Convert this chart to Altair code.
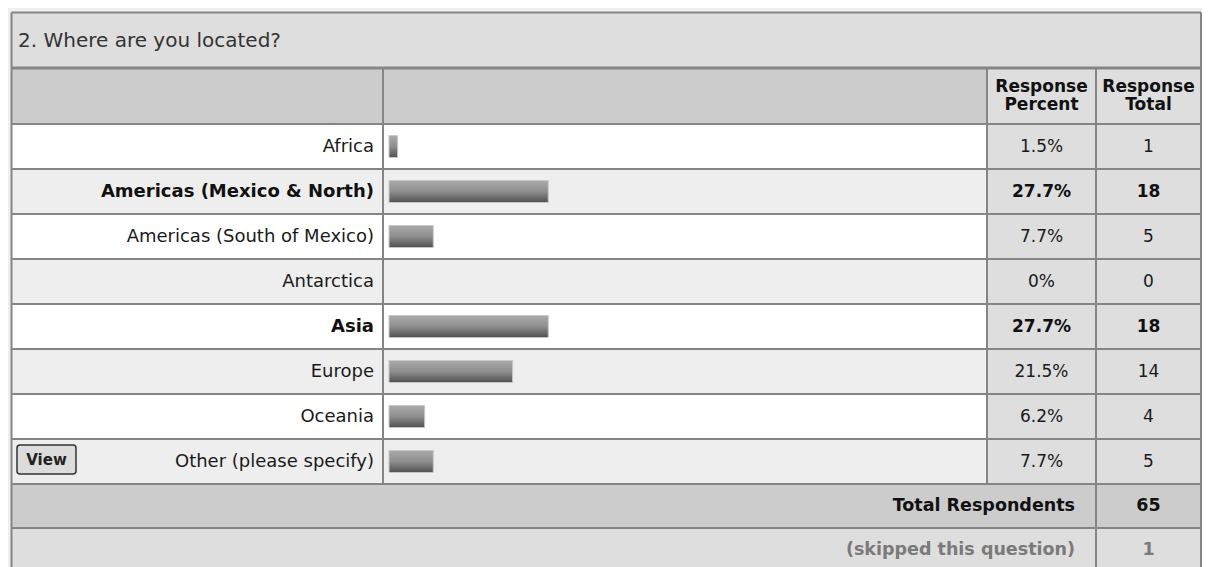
import altair as alt
import pandas as pd

# ---------------- data ----------------
title_text = "2. Where are you located?"
categories = [
    "Africa",
    "Americas (Mexico & North)",
    "Americas (South of Mexico)",
    "Antarctica",
    "Asia",
    "Europe",
    "Oceania",
    "Other (please specify)",
]
percents = [1.5, 27.7, 7.7, 0, 27.7, 21.5, 6.2, 7.7]
totals = [1, 18, 5, 0, 18, 14, 4, 5]
total_respondents = 65
skipped = 1

# ---------------- layout (plot pixels) ----------------
W, H = 1194, 559
L, T, R, B = 3.5, 4.5, 1193, 559
Y_TITLE = 60
Y_HEAD = 116
ROW_H = 45
Y_ROWS_END = Y_HEAD + ROW_H * len(categories)
Y_TOTAL_END = Y_ROWS_END + 44
C1, C2, C3 = 375, 979, 1088
FONT = "DejaVu Sans"
LINE = "#858585"
VAL_SIZE = 17
BOLD_SIZE = 17.5
LABEL_SIZE = 18

df = pd.DataFrame({
    "cat": categories,
    "pct": percents,
    "total": totals,
})
df["pct_label"] = [f"{p:g}%" for p in percents]
df["stripe"] = [i % 2 for i in range(len(df))]
df["bold"] = [t == max(totals) for t in totals]

yband = alt.Y("cat:N", sort=categories, axis=None,
              scale=alt.Scale(domain=categories, range=[Y_HEAD, Y_ROWS_END],
                              paddingInner=0, paddingOuter=0))

# structural cell backgrounds
cells = pd.DataFrame([
    dict(x=L, x2=R, y=T, y2=Y_TITLE, c="#dedede"),
    dict(x=L, x2=C2, y=Y_TITLE, y2=Y_HEAD, c="#cccccc"),
    dict(x=C2, x2=R, y=Y_TITLE, y2=Y_HEAD, c="#dedede"),
    dict(x=C2, x2=R, y=Y_HEAD, y2=Y_ROWS_END, c="#dedede"),
    dict(x=L, x2=R, y=Y_ROWS_END, y2=Y_TOTAL_END, c="#cccccc"),
    dict(x=L, x2=R, y=Y_TOTAL_END, y2=B, c="#dedede"),
])
cell_layer = alt.Chart(cells).mark_rect().encode(
    x=alt.X("x:Q", scale=None), x2="x2:Q",
    y=alt.Y("y:Q", scale=None), y2="y2:Q",
    color=alt.Color("c:N", scale=None),
)

row_bg = alt.Chart(df).mark_rect().encode(
    x=alt.value(L), x2=alt.value(C2),
    y=yband,
    color=alt.condition("datum.stripe == 1", alt.value("#eeeeee"), alt.value("#ffffff")),
)

# grid lines
hl = [dict(x=L, x2=R, y=T, y2=T, w=2),
      dict(x=L, x2=R, y=Y_TITLE, y2=Y_TITLE, w=3),
      dict(x=L, x2=R, y=Y_TOTAL_END, y2=Y_TOTAL_END, w=2)]
for i in range(len(categories) + 1):
    yy = Y_HEAD + ROW_H * i
    hl.append(dict(x=L, x2=R, y=yy, y2=yy, w=2))
vl = [dict(x=L, x2=L, y=T, y2=B, w=2),
      dict(x=R, x2=R, y=T, y2=B, w=2),
      dict(x=C1, x2=C1, y=Y_TITLE, y2=Y_ROWS_END, w=2),
      dict(x=C2, x2=C2, y=Y_TITLE, y2=Y_ROWS_END, w=2),
      dict(x=C3, x2=C3, y=Y_TITLE, y2=B, w=2)]
lines = pd.DataFrame(hl + vl)
line_layer = alt.Chart(lines).mark_rule(color=LINE).encode(
    x=alt.X("x:Q", scale=None), x2="x2:Q",
    y=alt.Y("y:Q", scale=None), y2="y2:Q",
    strokeWidth=alt.StrokeWidth("w:Q", scale=None),
)

# bars
grad = alt.Gradient(
    gradient="linear",
    stops=[alt.GradientStop(color="#aaaaaa", offset=0),
           alt.GradientStop(color="#8e8e8e", offset=0.5),
           alt.GradientStop(color="#505050", offset=1)],
    x1=0, x2=0, y1=0, y2=1,
)
bars = alt.Chart(df).transform_filter("datum.pct > 0").mark_bar(
    color=grad, height=22, stroke="#c8c8c8", strokeWidth=1
).encode(
    x=alt.X("pct:Q", axis=None, scale=alt.Scale(domain=[0, 100], range=[381, 956])),
    y=yband,
)

# row labels
lab_norm = alt.Chart(df).transform_filter("!datum.bold").mark_text(
    align="right", baseline="middle", font=FONT, fontSize=LABEL_SIZE, color="#1a1a1a"
).encode(x=alt.value(C1 - 9), y=yband, text="cat:N")
lab_bold = alt.Chart(df).transform_filter("datum.bold").mark_text(
    align="right", baseline="middle", font=FONT, fontSize=LABEL_SIZE, fontWeight="bold", color="#111111"
).encode(x=alt.value(C1 - 9), y=yband, text="cat:N")

pct_norm = alt.Chart(df).transform_filter("!datum.bold").mark_text(
    align="center", baseline="middle", font=FONT, fontSize=VAL_SIZE, color="#1a1a1a"
).encode(x=alt.value((C2 + C3) / 2), y=yband, text="pct_label:N")
pct_bold = alt.Chart(df).transform_filter("datum.bold").mark_text(
    align="center", baseline="middle", font=FONT, fontSize=VAL_SIZE, fontWeight="bold", color="#111111"
).encode(x=alt.value((C2 + C3) / 2), y=yband, text="pct_label:N")

tot_norm = alt.Chart(df).transform_filter("!datum.bold").mark_text(
    align="center", baseline="middle", font=FONT, fontSize=VAL_SIZE, color="#1a1a1a"
).encode(x=alt.value((C3 + R) / 2), y=yband, text="total:Q")
tot_bold = alt.Chart(df).transform_filter("datum.bold").mark_text(
    align="center", baseline="middle", font=FONT, fontSize=VAL_SIZE, fontWeight="bold", color="#111111"
).encode(x=alt.value((C3 + R) / 2), y=yband, text="total:Q")

# static texts
def static_text(txt, x, y, align="left", bold=False, size=16, color="#222222"):
    return alt.Chart(pd.DataFrame({"t": [txt]})).mark_text(
        align=align, baseline="middle", font=FONT, fontSize=size,
        fontWeight="bold" if bold else "normal", color=color,
    ).encode(x=alt.value(x), y=alt.value(y), text="t:N")

title = static_text(title_text, 10, (T + Y_TITLE) / 2 + 1, size=20, color="#333333")
h1a = static_text("Response", (C2 + C3) / 2, 79, "center", True, BOLD_SIZE - 0.5, "#111111")
h1b = static_text("Percent", (C2 + C3) / 2, 97, "center", True, BOLD_SIZE - 0.5, "#111111")
h2a = static_text("Response", (C3 + R) / 2, 79, "center", True, BOLD_SIZE - 0.5, "#111111")
h2b = static_text("Total", (C3 + R) / 2, 97, "center", True, BOLD_SIZE - 0.5, "#111111")
tr_lab = static_text("Total Respondents", C3 - 21, (Y_ROWS_END + Y_TOTAL_END) / 2, "right", True, BOLD_SIZE, "#111111")
tr_val = static_text(str(total_respondents), (C3 + R) / 2, (Y_ROWS_END + Y_TOTAL_END) / 2, "center", True, BOLD_SIZE, "#111111")
sk_lab = static_text("(skipped this question)", C3 - 21, Y_TOTAL_END + 22, "right", True, BOLD_SIZE, "#7a7a7a")
sk_val = static_text(str(skipped), (C3 + R) / 2, Y_TOTAL_END + 22, "center", True, BOLD_SIZE, "#7a7a7a")

# "View" button on the last row
btn_y = Y_HEAD + ROW_H * (len(categories) - 1)
button = alt.Chart(pd.DataFrame({"t": ["View"]})).mark_rect(
    fill="#dcdcdc", stroke="#333333", strokeWidth=1.5, cornerRadius=3
).encode(x=alt.value(9), x2=alt.value(68), y=alt.value(btn_y + 6), y2=alt.value(btn_y + 35))
button_txt = static_text("View", 38.5, btn_y + 20.5, "center", True, 15, "#222222")

chart = alt.layer(
    cell_layer, row_bg, line_layer, bars,
    lab_norm, lab_bold, pct_norm, pct_bold, tot_norm, tot_bold,
    title, h1a, h1b, h2a, h2b, tr_lab, tr_val, sk_lab, sk_val,
    button, button_txt,
).resolve_scale(x="independent", y="independent", color="independent").properties(
    width=W, height=H, padding=0,
    autosize=alt.AutoSizeParams(type="none"),
    background="#efefef",
).configure_view(stroke=None)

chart.save("out.html", embed_options={"renderer": "svg", "actions": False})
